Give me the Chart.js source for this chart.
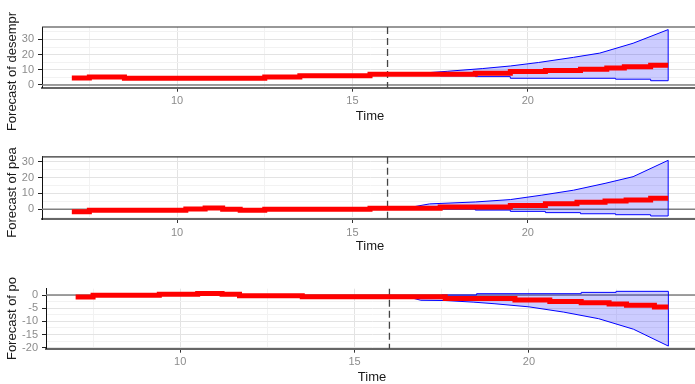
<!DOCTYPE html>
<html>
<head>
<meta charset="utf-8">
<script src="https://cdn.jsdelivr.net/npm/chart.js@4.4.1/dist/chart.umd.min.js"></script>
<style>
    html, body { margin: 0; padding: 0; background: #fff; overflow: hidden; }
    #wrap { position: relative; width: 698px; height: 384px; }
    .panel { position: absolute; left: 0; }
</style>
</head>
<body>
<div id="wrap">
    <div class="panel" style="top:0px"><canvas id="c1" width="698" height="130"></canvas></div>
    <div class="panel" style="top:130px"><canvas id="c2" width="698" height="130"></canvas></div>
    <div class="panel" style="top:260px"><canvas id="c3" width="698" height="124"></canvas></div>
</div>
<script>
// x axis
var timeTicks = [10, 15, 20];
var timeMinor = [7.5, 12.5, 17.5, 22.5];
var timeMin = 6.15, timeMax = 24.85;
var forecastStart = 16;

// desempr: forecast line (value holds from x until next x) + band
var desemprX = [7, 7.5, 8.5, 12.5, 13.5, 15.5, 18.5, 19.5, 20.5, 21.5, 22.25, 22.75, 23.5, 24];
var desemprY = [4.6, 5.3, 4.5, 5.3, 6.1, 7.0, 7.7, 8.8, 9.5, 10.4, 11.2, 12.0, 13.0, 13.0];
var desemprLoX = [16.5, 17.5, 18.5, 19.5, 22.5, 23.5, 24];
var desemprLo = [7.0, 6.0, 5.5, 4.4, 3.8, 2.8, 2.8];
var desemprHiX = [16.5, 17.7, 18.7, 19.5, 20.3, 21.3, 22.05, 23, 24];
var desemprHi = [7.0, 9.0, 10.8, 12.5, 14.8, 18.2, 21.0, 27.5, 36.5];
var desemprTicks = [0, 10, 20, 30];
var desemprMinor = [5, 15, 25, 35];

// pea
var peaX = [7, 7.5, 10.25, 10.8, 11.3, 11.8, 12.5, 15.5, 17.5, 19.5, 20.5, 21.4, 22.2, 22.8, 23.5, 24];
var peaY = [-1.5, -0.6, 0.2, 0.8, 0.1, -0.6, 0.0, 0.6, 1.4, 2.4, 3.5, 4.4, 5.2, 5.9, 7.0, 7.0];
var peaLoX = [16.5, 17.5, 18.5, 19.5, 20.5, 21.5, 22.5, 23.5, 24];
var peaLo = [0.6, 0.2, -0.5, -1.3, -2.1, -2.8, -3.4, -4.2, -4.2];
var peaHiX = [16.5, 17.2, 18.5, 19.5, 20.4, 21.3, 22.2, 23, 24];
var peaHi = [0.6, 3.4, 4.6, 6.1, 8.9, 12.0, 16.3, 20.5, 30.8];
var peaTicks = [0, 10, 20, 30];
var peaMinor = [-5, 5, 15, 25];

// po
var poX = [7, 7.5, 9.4, 10.5, 11.2, 11.7, 13.5, 17.6, 19.6, 20.6, 21.5, 22.3, 22.8, 23.6, 24];
var poY = [-0.8, -0.1, 0.25, 0.6, 0.25, -0.25, -0.7, -1.3, -1.9, -2.5, -2.9, -3.4, -3.9, -4.6, -4.6];
var poHiX = [16.5, 17.5, 18.5, 21.5, 22.5, 24];
var poHi = [-0.6, 0.0, 0.5, 1.0, 1.4, 1.4];
var poLoX = [16.5, 16.9, 17.6, 18.4, 19, 20, 21, 22, 23, 24];
var poLo = [-0.6, -2.0, -2.1, -2.7, -3.3, -4.5, -6.5, -9.0, -13.0, -19.4];
var poTicks = [-20, -15, -10, -5, 0];
var poMinor = [-17.5, -12.5, -7.5, -2.5];

var fontFamily = "'Liberation Sans', Arial, sans-serif";

function pts(xs, ys) {
    return xs.map((x, i) => ({ x: x, y: ys[i] }));
}

var panelDecor = {
    id: "panelDecor",
    beforeDatasetsDraw(chart, args, o) {
        var ctx = chart.ctx, a = chart.chartArea;
        var x = chart.scales.x, y = chart.scales.y;
        ctx.save();
        // zero line
        var y0 = y.getPixelForValue(0);
        ctx.strokeStyle = "#808080";
        ctx.lineWidth = 1.5;
        ctx.beginPath();
        ctx.moveTo(a.left, y0);
        ctx.lineTo(a.right, y0);
        ctx.stroke();
        // top line
        if (o.topLine) {
            ctx.strokeStyle = "#333";
            ctx.lineWidth = 1.2;
            ctx.beginPath();
            ctx.moveTo(a.left, a.top);
            ctx.lineTo(a.right, a.top);
            ctx.stroke();
        }
        // forecast origin
        var xf = x.getPixelForValue(forecastStart);
        ctx.strokeStyle = "#444";
        ctx.lineWidth = 1.3;
        ctx.setLineDash([7, 4]);
        ctx.beginPath();
        ctx.moveTo(xf, a.top);
        ctx.lineTo(xf, a.bottom);
        ctx.stroke();
        ctx.restore();
    },
    afterDraw(chart, args, o) {
        var ctx = chart.ctx;
        ctx.save();
        ctx.translate(12.5, o.titleY);
        ctx.rotate(-Math.PI / 2);
        ctx.textAlign = "center";
        ctx.textBaseline = "middle";
        ctx.font = "13px " + fontFamily;
        ctx.fillStyle = "#1a1a1a";
        ctx.fillText(o.title, 0, 0);
        ctx.restore();
    }
};

function makePanel(id, p) {
    var canvas = document.getElementById(id);
    var H = canvas.height;
    var xAxisH = p.timeY + 7.8 - p.bottom;
    var xAll = timeTicks.concat(timeMinor).sort((a, b) => a - b);
    var yAll = p.yTicks.concat(p.yMinor).sort((a, b) => a - b);
    var lastLo = p.lo.length - 1, lastHi = p.hi.length - 1;

    return new Chart(canvas, {
        type: "line",
        data: {
            datasets: [{
                label: p.title,
                data: pts(p.x, p.y),
                borderColor: "#ff0000",
                borderWidth: 5,
                borderCapStyle: "butt",
                stepped: "before",
                pointRadius: 0,
                fill: false
            }, {
                label: "upper",
                data: pts(p.hiX, p.hi),
                borderColor: "#0000ff",
                borderWidth: 1,
                stepped: p.hiStep,
                pointRadius: 0,
                fill: false
            }, {
                label: "lower",
                data: pts(p.loX, p.lo),
                borderColor: "#0000ff",
                borderWidth: 1,
                stepped: p.loStep,
                pointRadius: 0,
                fill: 1,
                backgroundColor: "rgba(0, 0, 255, 0.2)"
            }, {
                label: "edge",
                data: [{ x: p.loX[lastLo], y: p.lo[lastLo] }, { x: p.hiX[lastHi], y: p.hi[lastHi] }],
                borderColor: "#0000ff",
                borderWidth: 1,
                pointRadius: 0,
                fill: false
            }]
        },
        options: {
            responsive: false,
            animation: false,
            events: [],
            layout: { padding: { left: 0, right: 0, top: p.top, bottom: H - p.bottom - xAxisH } },
            plugins: {
                legend: { display: false },
                tooltip: { enabled: false },
                panelDecor: { title: p.title, titleY: p.titleY, topLine: p.topLine }
            },
            scales: {
                x: {
                    type: "linear",
                    min: timeMin,
                    max: timeMax,
                    afterBuildTicks: s => { s.ticks = xAll.map(v => ({ value: v })); },
                    afterFit: s => { s.height = xAxisH; },
                    ticks: {
                        autoSkip: false,
                        maxRotation: 0,
                        padding: 3,
                        color: "#8c8c8c",
                        font: { family: fontFamily, size: 11 },
                        callback: v => timeTicks.includes(v) ? String(v) : ""
                    },
                    grid: {
                        color: c => (c.tick && timeTicks.includes(c.tick.value)) ? "#e3e3e3" : "#f2f2f2",
                        lineWidth: 1,
                        tickLength: 4,
                        tickColor: c => (c.tick && timeTicks.includes(c.tick.value)) ? "#333" : "rgba(0,0,0,0)"
                    },
                    border: { display: true, color: "#666", width: 2 },
                    title: {
                        display: true,
                        text: "Time",
                        color: "#1a1a1a",
                        font: { family: fontFamily, size: 13 },
                        padding: 0
                    }
                },
                y: {
                    type: "linear",
                    min: p.yMin,
                    max: p.yMax,
                    afterBuildTicks: s => { s.ticks = yAll.map(v => ({ value: v })); },
                    afterFit: s => { s.width = p.left; },
                    ticks: {
                        autoSkip: false,
                        padding: 4,
                        color: "#8c8c8c",
                        font: { family: fontFamily, size: 11 },
                        callback: v => p.yTicks.includes(v) ? String(v) : ""
                    },
                    grid: {
                        color: c => (c.tick && p.yTicks.includes(c.tick.value)) ? "#e3e3e3" : "#f2f2f2",
                        lineWidth: 1,
                        tickLength: 4,
                        tickColor: c => (c.tick && p.yTicks.includes(c.tick.value)) ? "#222" : "rgba(0,0,0,0)"
                    },
                    border: { display: true, color: "#111", width: 1 }
                }
            }
        },
        plugins: [panelDecor]
    });
}

makePanel("c1", {
    title: "Forecast of desempr", titleY: 71.5, topLine: true,
    x: desemprX, y: desemprY, loX: desemprLoX, lo: desemprLo, hiX: desemprHiX, hi: desemprHi,
    loStep: "before", hiStep: false,
    yTicks: desemprTicks, yMinor: desemprMinor, yMin: -1.8, yMax: 38.2,
    top: 27, bottom: 87.7, timeY: 116, left: 42
});

makePanel("c2", {
    title: "Forecast of pea", titleY: 62.5, topLine: true,
    x: peaX, y: peaY, loX: peaLoX, lo: peaLo, hiX: peaHiX, hi: peaHi,
    loStep: "before", hiStep: false,
    yTicks: peaTicks, yMinor: peaMinor, yMin: -6.1, yMax: 33.0,
    top: 26.8, bottom: 89, timeY: 116.7, left: 42
});

makePanel("c3", {
    title: "Forecast of po", titleY: 58.5, topLine: false,
    x: poX, y: poY, loX: poLoX, lo: poLo, hiX: poHiX, hi: poHi,
    loStep: false, hiStep: "before",
    yTicks: poTicks, yMinor: poMinor, yMin: -20.4, yMax: 2.4,
    top: 28.7, bottom: 88.7, timeY: 117, left: 46
});
</script>
</body>
</html>
